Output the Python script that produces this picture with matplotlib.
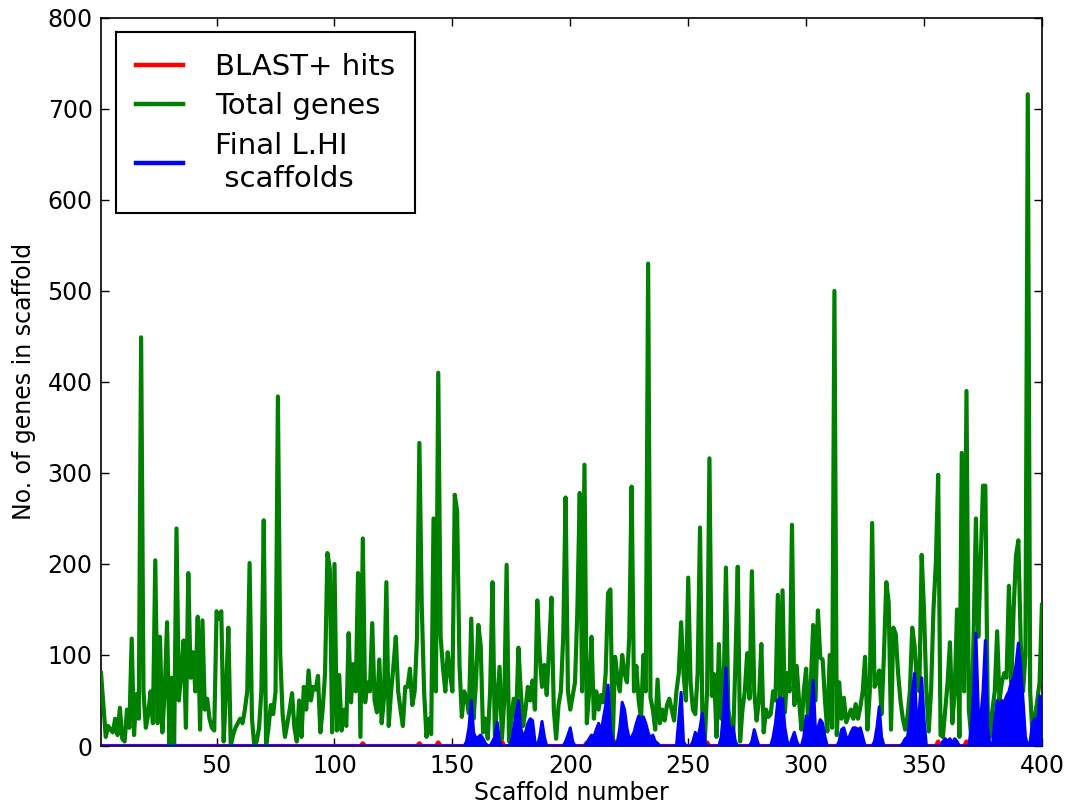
import numpy as np
import matplotlib
matplotlib.use("Agg")
import matplotlib.pyplot as plt

# ---------------- data ----------------
scaffolds = list(range(1, 401))

total_genes = [
    80, 45, 10, 22, 18, 15, 30, 12, 42, 8,
    5, 40, 20, 118, 12, 57, 30, 449, 60, 20,
    35, 60, 25, 204, 25, 120, 15, 60, 136, 0,
    75, 0, 239, 50, 80, 116, 20, 190, 75, 103,
    60, 142, 18, 138, 40, 52, 30, 20, 17, 148,
    140, 148, 5, 60, 130, 0, 12, 20, 25, 30,
    25, 40, 60, 201, 30, 0, 5, 20, 60, 248,
    0, 20, 45, 35, 60, 384, 100, 35, 10, 25,
    40, 58, 20, 5, 50, 10, 65, 40, 83, 50,
    65, 62, 77, 15, 40, 80, 212, 195, 15, 200,
    17, 78, 17, 40, 22, 124, 48, 90, 60, 190,
    10, 228, 48, 70, 60, 135, 50, 37, 95, 25,
    52, 180, 22, 60, 88, 120, 60, 40, 22, 65,
    65, 85, 45, 60, 120, 333, 155, 60, 10, 30,
    13, 250, 60, 410, 120, 86, 60, 103, 80, 60,
    276, 258, 89, 32, 60, 52, 36, 140, 30, 70,
    133, 110, 15, 30, 8, 60, 180, 12, 50, 87,
    8, 50, 199, 5, 30, 52, 28, 108, 60, 22,
    40, 65, 50, 72, 40, 160, 100, 65, 89, 56,
    107, 163, 40, 8, 45, 60, 120, 273, 60, 40,
    55, 70, 150, 278, 60, 309, 25, 60, 120, 30,
    60, 40, 56, 48, 80, 168, 172, 6, 98, 75,
    60, 100, 80, 70, 120, 285, 60, 88, 50, 30,
    100, 60, 530, 53, 40, 18, 73, 25, 40, 28,
    45, 52, 40, 28, 60, 80, 136, 80, 50, 185,
    70, 40, 35, 80, 240, 32, 5, 60, 316, 55,
    79, 10, 112, 30, 60, 196, 40, 20, 5, 90,
    197, 5, 40, 60, 102, 52, 192, 60, 28, 50,
    112, 15, 40, 32, 35, 60, 50, 166, 50, 171,
    37, 80, 60, 243, 45, 88, 50, 18, 60, 85,
    15, 70, 133, 50, 149, 97, 95, 50, 16, 100,
    20, 500, 12, 70, 30, 53, 26, 33, 40, 30,
    46, 30, 43, 60, 98, 18, 60, 245, 65, 70,
    83, 35, 100, 180, 158, 18, 130, 123, 80, 50,
    30, 18, 33, 60, 130, 110, 70, 60, 210, 148,
    60, 16, 62, 150, 200, 298, 12, 10, 40, 70,
    114, 25, 60, 150, 10, 322, 60, 390, 40, 10,
    120, 250, 120, 200, 286, 286, 40, 10, 40, 60,
    126, 50, 70, 80, 75, 176, 70, 150, 209, 226,
    114, 60, 100, 716, 60, 12, 30, 50, 70, 155,
]

# Final L.HI scaffolds: zero for scaffolds 1-150, values for 151-400
final_lhi_tail = [
    0, 0, 0, 0, 0, 5, 20, 50, 15, 8,
    10, 12, 8, 3, 0, 0, 5, 10, 26, 5,
    0, 0, 0, 0, 5, 20, 35, 50, 20, 10,
    15, 25, 30, 28, 5, 0, 10, 27, 10, 0,
    0, 0, 0, 0, 0, 0, 0, 5, 12, 20,
    5, 0, 0, 0, 0, 0, 3, 8, 12, 10,
    18, 25, 15, 30, 45, 67, 20, 5, 0, 5,
    20, 48, 40, 20, 8, 10, 15, 25, 33, 30,
    32, 25, 15, 8, 12, 5, 3, 0, 0, 0,
    0, 0, 0, 0, 0, 30, 59, 5, 0, 0,
    0, 5, 15, 8, 20, 36, 5, 0, 0, 0,
    0, 0, 0, 10, 40, 86, 30, 10, 21, 5,
    0, 0, 0, 0, 0, 0, 5, 18, 8, 0,
    0, 0, 0, 0, 0, 10, 25, 50, 53, 52,
    20, 5, 0, 8, 15, 5, 0, 0, 10, 33,
    20, 40, 72, 15, 20, 29, 25, 10, 0, 0,
    0, 0, 0, 5, 18, 20, 10, 8, 15, 20,
    20, 18, 20, 10, 0, 0, 0, 0, 5, 20,
    43, 10, 0, 0, 0, 0, 0, 0, 0, 0,
    3, 8, 10, 30, 60, 80, 20, 40, 75, 30,
    0, 0, 0, 0, 0, 0, 0, 5, 8, 5,
    8, 3, 8, 5, 0, 0, 0, 0, 0, 20,
    60, 124, 40, 30, 60, 116, 20, 0, 0, 30,
    50, 45, 50, 48, 55, 60, 70, 75, 90, 113,
    86, 50, 10, 0, 5, 25, 30, 20, 55, 45,
]
final_lhi_head_len = 150

# BLAST+ hits: zero except at these scaffolds
blast_scaffolds = [112, 136, 144, 171, 207, 219, 258, 332, 356, 368]
blast_values = [3, 3, 4, 5, 4, 5, 4, 4, 5, 5]

x_ticks = [50, 100, 150, 200, 250, 300, 350, 400]
y_ticks = [0, 100, 200, 300, 400, 500, 600, 700, 800]

# ---------------- build ----------------
x = np.array(scaffolds)
green = np.array(total_genes, dtype=float)
blue = np.concatenate([np.zeros(final_lhi_head_len), np.array(final_lhi_tail, dtype=float)])
red = np.zeros(len(x))
for s, v in zip(blast_scaffolds, blast_values):
    red[s - 1] = v

plt.rcParams['font.family'] = ['DejaVu Sans']
fig = plt.figure(figsize=(10.68, 8.10), dpi=100)
ax = fig.add_axes([0.0946, 0.079, 0.881, 0.899])

lw = 3.0
ax.plot(x, red, color=(1, 0, 0), lw=lw, label='BLAST+ hits', zorder=2)
ax.plot(x, green, color=(0, 0.5, 0), lw=lw, label='Total genes', zorder=3)
ax.fill_between(x, 0, blue, color=(0, 0, 1), lw=0, zorder=4)
ax.plot(x, blue, color=(0, 0, 1), lw=2.2, label='Final L.HI\n scaffolds', zorder=5)

ax.set_xlim(1, 400)
ax.set_ylim(0, 800)
ax.set_xticks(x_ticks)
ax.set_yticks(y_ticks)
ax.tick_params(direction='in', length=6, width=1, top=True, right=True,
               labelsize=17, pad=6)
for sp in ax.spines.values():
    sp.set_linewidth(1.2)
    sp.set_color('black')

ax.set_xlabel('Scaffold number', fontsize=17, labelpad=2)
ax.set_ylabel('No. of genes in scaffold', fontsize=17, labelpad=8)

leg = ax.legend(loc='upper left', fontsize=21, frameon=True, fancybox=False,
                edgecolor='black', framealpha=1, borderaxespad=0.5,
                handlelength=1.6, handletextpad=1.1, labelspacing=0.4,
                borderpad=0.7)
leg.get_frame().set_linewidth(1.5)
for h in leg.legend_handles:
    h.set_linewidth(3.2)

fig.savefig('out.png', dpi=100)
